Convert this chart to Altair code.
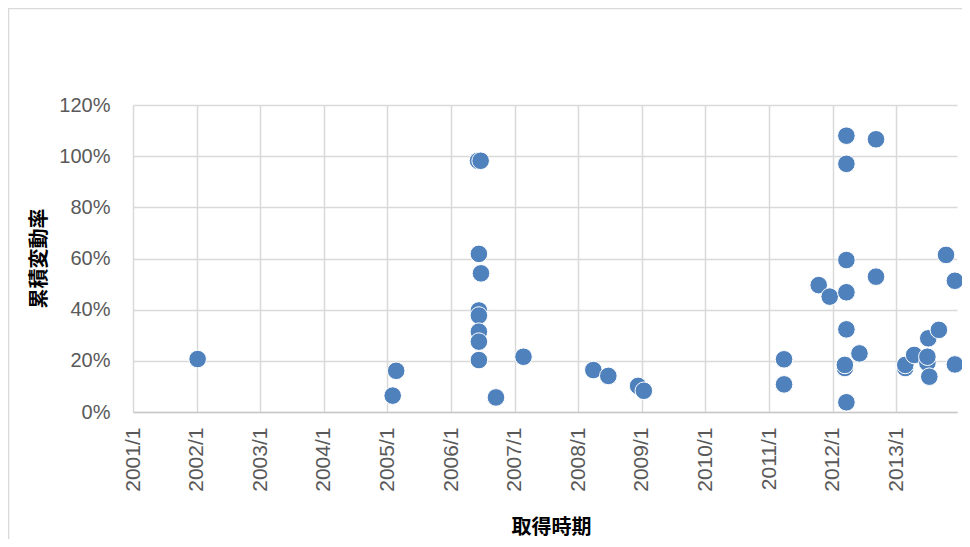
import altair as alt
import pandas as pd

# Acquisition date (取得時期) and cumulative change rate (累積変動率)
dates = [
    "2002-01-07", "2005-02-20", "2005-01-31",
    "2006-06-05", "2006-06-20", "2006-06-10", "2006-06-22",
    "2006-06-10", "2006-06-10", "2006-06-10", "2006-06-10", "2006-06-10",
    "2006-09-16", "2007-02-21",
    "2008-03-28", "2008-06-22", "2008-12-10", "2009-01-12",
    "2011-03-28", "2011-03-28", "2011-10-13", "2011-12-15",
    "2012-03-20", "2012-03-20", "2012-03-20", "2012-03-20", "2012-03-20",
    "2012-03-11", "2012-03-11", "2012-03-20", "2012-06-03",
    "2012-09-06", "2012-09-06",
    "2013-02-21", "2013-02-21", "2013-04-13", "2013-06-28", "2013-06-28",
    "2013-07-09", "2013-07-03", "2013-09-02", "2013-10-13",
    "2013-12-03", "2013-12-03",
]
rates = [
    0.207, 0.161, 0.064,
    0.982, 0.982, 0.618, 0.542,
    0.397, 0.377, 0.314, 0.275, 0.203,
    0.057, 0.216,
    0.164, 0.141, 0.102, 0.083,
    0.206, 0.108, 0.496, 0.451,
    1.080, 0.970, 0.594, 0.468, 0.323,
    0.172, 0.184, 0.038, 0.229,
    1.066, 0.529,
    0.172, 0.184, 0.223, 0.192, 0.216,
    0.138, 0.288, 0.321, 0.614,
    0.513, 0.186,
]
year_ticks = list(range(2001, 2014))
y_ticks = [0, 0.2, 0.4, 0.6, 0.8, 1.0, 1.2]

df = pd.DataFrame({"date": dates, "rate": rates})

LABEL_FONT = "Liberation Sans"
CJK_FONT = "Noto Sans CJK JP"

points = alt.Chart(df).mark_circle(
    size=310, color="#4F81BD", opacity=1, stroke="white", strokeWidth=1
).encode(
    x=alt.X(
        "date:T",
        scale=alt.Scale(
            type="utc",
            domain=[alt.DateTime(year=2001, month=1, date=1, utc=True),
                    alt.DateTime(year=2013, month=12, date=15, utc=True)],
            nice=False,
        ),
        axis=alt.Axis(
            values=[alt.DateTime(year=y, month=1, date=1, utc=True) for y in year_ticks],
            labelExpr="utcFormat(datum.value, '%Y/%-m')",
            labelAngle=-90,
            labelFont=LABEL_FONT,
            labelFontSize=21,
            labelColor="#595959",
            labelPadding=15,
            labelOverlap=False,
            labelFlush=False,
            ticks=False,
            grid=True,
            gridColor="#d9d9d9",
            gridWidth=1.5,
            domainColor="#c9c9c9",
            domainWidth=1.5,
            title="取得時期",
            titleFont=CJK_FONT,
            titleFontSize=20,
            titleFontWeight="bold",
            titleColor="#000000",
            titleX=418,
            titleY=125,
            titleAlign="center",
            titleBaseline="bottom",
        ),
    ),
    y=alt.Y(
        "rate:Q",
        scale=alt.Scale(domain=[0, 1.2], nice=False),
        axis=alt.Axis(
            values=y_ticks,
            format=".0%",
            labelFont=LABEL_FONT,
            labelFontSize=20,
            labelColor="#595959",
            labelPadding=23,
            ticks=False,
            domain=False,
            grid=True,
            gridColor="#d9d9d9",
            gridWidth=1.5,
            title="累積変動率",
            titleFont=CJK_FONT,
            titleFontSize=20,
            titleFontWeight="bold",
            titleColor="#000000",
            titleAngle=-90,
            titleX=-94,
            titleY=153,
            titleAlign="center",
            titleBaseline="middle",
        ),
    ),
)

frame = alt.Chart(pd.DataFrame({"a": [0]})).mark_rect(
    fillOpacity=0, stroke="#d9d9d9", strokeWidth=1.5
).encode(
    x=alt.value(-124.5), x2=alt.value(950),
    y=alt.value(-96.5), y2=alt.value(600),
)

chart = alt.layer(frame, points).properties(
    width=824,
    height=307,
    autosize=alt.AutoSizeParams(type="none"),
    padding={"left": 125, "top": 97, "right": 5, "bottom": 127},
).configure_view(stroke=None)

chart.save("out.html", embed_options={"renderer": "svg", "actions": False})
